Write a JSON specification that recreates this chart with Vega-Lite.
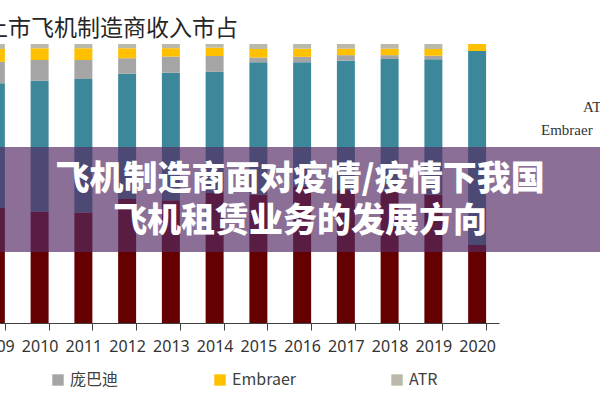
{
  "$schema": "https://vega.github.io/schema/vega-lite/v6.json",
  "width": 600,
  "height": 279,
  "autosize": "none",
  "padding": {"left": 0, "top": 44, "right": 0, "bottom": 77},
  "background": "white",
  "title": {"text": "上市飞机制造商收入市占", "anchor": "start", "frame": "group", "dx": -15, "offset": 3, "fontSize": 23, "font": "Noto Sans CJK SC", "fontWeight": "normal", "color": "#262626"},
  "config": {"view": {"stroke": null}},
  "datasets": {
    "shares": [
      {"year": "2009", "maker": "波音", "ord": 1, "share": 41.2},
      {"year": "2009", "maker": "空客", "ord": 2, "share": 44.7},
      {"year": "2009", "maker": "庞巴迪", "ord": 3, "share": 7.7},
      {"year": "2009", "maker": "Embraer", "ord": 4, "share": 4.6},
      {"year": "2009", "maker": "ATR", "ord": 5, "share": 1.8},
      {"year": "2010", "maker": "波音", "ord": 1, "share": 40.0},
      {"year": "2010", "maker": "空客", "ord": 2, "share": 46.8},
      {"year": "2010", "maker": "庞巴迪", "ord": 3, "share": 7.5},
      {"year": "2010", "maker": "Embraer", "ord": 4, "share": 4.2},
      {"year": "2010", "maker": "ATR", "ord": 5, "share": 1.5},
      {"year": "2011", "maker": "波音", "ord": 1, "share": 39.6},
      {"year": "2011", "maker": "空客", "ord": 2, "share": 47.9},
      {"year": "2011", "maker": "庞巴迪", "ord": 3, "share": 6.8},
      {"year": "2011", "maker": "Embraer", "ord": 4, "share": 4.2},
      {"year": "2011", "maker": "ATR", "ord": 5, "share": 1.5},
      {"year": "2012", "maker": "波音", "ord": 1, "share": 44.4},
      {"year": "2012", "maker": "空客", "ord": 2, "share": 44.9},
      {"year": "2012", "maker": "庞巴迪", "ord": 3, "share": 5.6},
      {"year": "2012", "maker": "Embraer", "ord": 4, "share": 3.6},
      {"year": "2012", "maker": "ATR", "ord": 5, "share": 1.5},
      {"year": "2013", "maker": "波音", "ord": 1, "share": 44.0},
      {"year": "2013", "maker": "空客", "ord": 2, "share": 45.7},
      {"year": "2013", "maker": "庞巴迪", "ord": 3, "share": 5.8},
      {"year": "2013", "maker": "Embraer", "ord": 4, "share": 3.0},
      {"year": "2013", "maker": "ATR", "ord": 5, "share": 1.5},
      {"year": "2014", "maker": "波音", "ord": 1, "share": 46.6},
      {"year": "2014", "maker": "空客", "ord": 2, "share": 43.4},
      {"year": "2014", "maker": "庞巴迪", "ord": 3, "share": 5.7},
      {"year": "2014", "maker": "Embraer", "ord": 4, "share": 3.0},
      {"year": "2014", "maker": "ATR", "ord": 5, "share": 1.3},
      {"year": "2015", "maker": "波音", "ord": 1, "share": 46.0},
      {"year": "2015", "maker": "空客", "ord": 2, "share": 47.5},
      {"year": "2015", "maker": "庞巴迪", "ord": 3, "share": 1.7},
      {"year": "2015", "maker": "Embraer", "ord": 4, "share": 3.0},
      {"year": "2015", "maker": "ATR", "ord": 5, "share": 1.8},
      {"year": "2016", "maker": "波音", "ord": 1, "share": 49.0},
      {"year": "2016", "maker": "空客", "ord": 2, "share": 44.5},
      {"year": "2016", "maker": "庞巴迪", "ord": 3, "share": 1.9},
      {"year": "2016", "maker": "Embraer", "ord": 4, "share": 2.9},
      {"year": "2016", "maker": "ATR", "ord": 5, "share": 1.7},
      {"year": "2017", "maker": "波音", "ord": 1, "share": 47.7},
      {"year": "2017", "maker": "空客", "ord": 2, "share": 46.3},
      {"year": "2017", "maker": "庞巴迪", "ord": 3, "share": 2.0},
      {"year": "2017", "maker": "Embraer", "ord": 4, "share": 2.3},
      {"year": "2017", "maker": "ATR", "ord": 5, "share": 1.7},
      {"year": "2018", "maker": "波音", "ord": 1, "share": 47.0},
      {"year": "2018", "maker": "空客", "ord": 2, "share": 47.6},
      {"year": "2018", "maker": "庞巴迪", "ord": 3, "share": 1.4},
      {"year": "2018", "maker": "Embraer", "ord": 4, "share": 2.3},
      {"year": "2018", "maker": "ATR", "ord": 5, "share": 1.7},
      {"year": "2019", "maker": "波音", "ord": 1, "share": 46.0},
      {"year": "2019", "maker": "空客", "ord": 2, "share": 48.5},
      {"year": "2019", "maker": "庞巴迪", "ord": 3, "share": 1.3},
      {"year": "2019", "maker": "Embraer", "ord": 4, "share": 2.4},
      {"year": "2019", "maker": "ATR", "ord": 5, "share": 1.8},
      {"year": "2020", "maker": "波音", "ord": 1, "share": 28.0},
      {"year": "2020", "maker": "空客", "ord": 2, "share": 69.5},
      {"year": "2020", "maker": "Embraer", "ord": 4, "share": 2.5}
    ]
  },
  "layer": [
    {
      "data": {"name": "shares"},
      "mark": {"type": "bar"},
      "encoding": {
        "x": {
          "field": "year",
          "type": "ordinal",
          "scale": {"range": [-26, 499], "paddingInner": 0.589, "paddingOuter": 0.2945},
          "axis": {"title": null, "labelAngle": 0, "tickBand": "extent", "domainColor": "#404040", "tickColor": "#404040", "tickSize": 7, "labelFont": "Noto Sans", "labelFontSize": 16, "labelColor": "#333333", "labelPadding": 8, "grid": false}
        },
        "y": {"field": "share", "type": "quantitative", "stack": "normalize", "scale": {"domain": [0, 1], "nice": false}, "axis": null},
        "color": {
          "field": "maker",
          "type": "nominal",
          "scale": {"domain": ["波音", "空客", "庞巴迪", "Embraer", "ATR"], "range": ["#650000", "#3C889A", "#A5A5A5", "#FFC000", "#BBB9AA"]},
          "legend": {"values": ["庞巴迪", "Embraer", "ATR"], "orient": "none", "legendX": 50, "legendY": 328, "direction": "horizontal", "title": null, "labelFont": "Noto Sans CJK SC", "labelFontSize": 16, "labelColor": "#404040", "symbolType": "square", "symbolSize": 130, "symbolStrokeWidth": 0, "labelOffset": 4, "columnPadding": 93, "padding": 0}
        },
        "order": {"field": "ord", "type": "quantitative"}
      }
    },
    {
      "data": {"values": [{"top": 0.631, "bottom": 0.2545}]},
      "mark": {"type": "rect", "color": "#542B64", "opacity": 0.68},
      "encoding": {
        "x": {"value": 0},
        "x2": {"value": "width"},
        "y": {"field": "top", "type": "quantitative"},
        "y2": {"field": "bottom"}
      }
    },
    {
      "data": {"values": [
        {"line": "飞机制造商面对疫情/疫情下我国", "pos": 0.5125, "year": "2016"},
        {"line": "飞机租赁业务的发展方向", "pos": 0.362, "year": "2016"}
      ]},
      "mark": {"type": "text", "font": "Noto Sans CJK SC", "fontSize": 34, "fontWeight": 900, "color": "white", "dx": -2, "baseline": "middle", "align": "center"},
      "encoding": {
        "x": {"field": "year", "type": "ordinal"},
        "y": {"field": "pos", "type": "quantitative"},
        "text": {"field": "line"}
      }
    },
    {
      "data": {"values": [{"label": "ATR", "pos": 0.774}]},
      "mark": {"type": "text", "font": "Liberation Serif", "fontSize": 15, "color": "#333333", "align": "left", "baseline": "middle", "dx": -17},
      "encoding": {
        "x": {"value": "width"},
        "y": {"field": "pos", "type": "quantitative"},
        "text": {"field": "label"}
      }
    },
    {
      "data": {"values": [{"label": "Embraer", "pos": 0.692}]},
      "mark": {"type": "text", "font": "Liberation Serif", "fontSize": 15, "color": "#333333", "align": "left", "baseline": "middle", "dx": -59, "letterSpacing": 1.5},
      "encoding": {
        "x": {"value": "width"},
        "y": {"field": "pos", "type": "quantitative"},
        "text": {"field": "label"}
      }
    }
  ]
}
